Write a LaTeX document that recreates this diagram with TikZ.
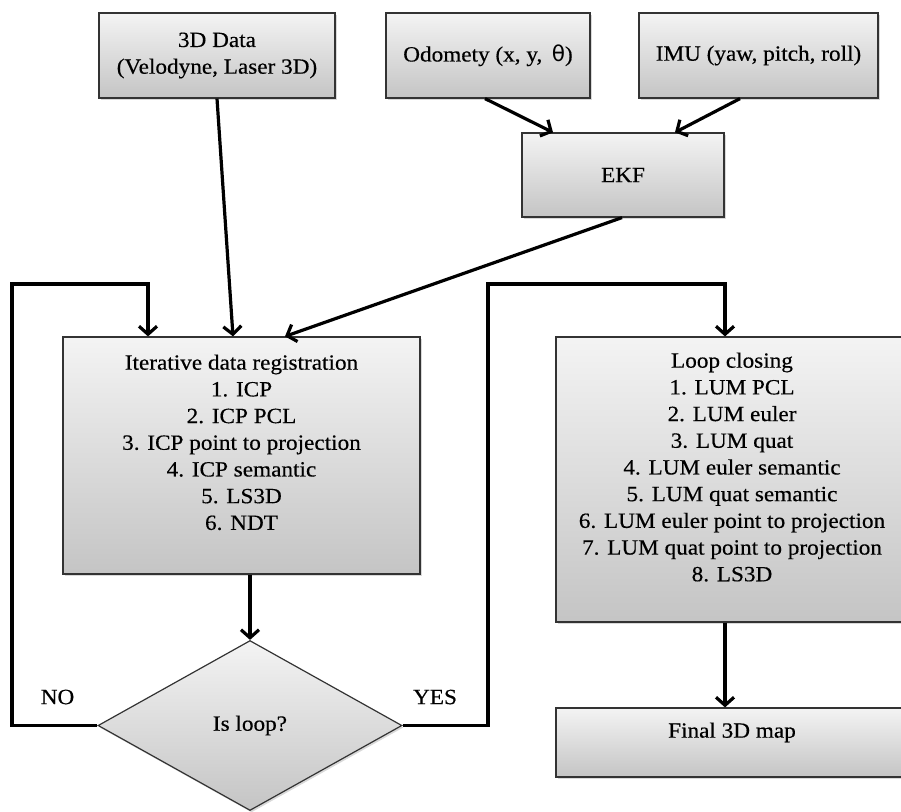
\documentclass[tikz,border=0pt]{standalone}
\usepackage{fontspec}
\setmainfont{Liberation Serif}[FakeStretch=1.07,FakeBold=0.4]
\newfontfamily\symfont{DejaVu Sans}
\usetikzlibrary{shapes.geometric,arrows.meta,shadows,calc}
\begin{document}
\begin{tikzpicture}[x=1pt,y=-1pt,
  every node/.style={font=\fontsize{21.7}{26.7}\selectfont},
  box/.style={draw=black!80, line width=1.2pt, top color=gray!9, bottom color=gray!46,
    drop shadow={shadow xshift=1.5pt, shadow yshift=-2pt, opacity=0.3},
    inner sep=0pt, align=center},
  arr/.style={line width=3.2pt, -{Straight Barb[length=8pt,width=18pt]}},
  txt/.style={align=center, inner sep=0pt},
  lbl/.style={inner sep=0pt}]
\useasboundingbox (0,0) rectangle (901,811);
\clip (0,0) rectangle (901,811);

% input boxes
\node[box, minimum width=236pt, minimum height=85pt] (data3d) at (217,55.5) {3D Data\\(Velodyne, Laser 3D)};
\node[box, minimum width=204pt, minimum height=85pt] (odo) at (488,55.5) {Odomety (x, y, \,{\symfont θ})};
\node[box, minimum width=239pt, minimum height=85pt] (imu) at (758.5,55.5) {IMU (yaw, pitch, roll)};
\node[box, minimum width=202pt, minimum height=84pt] (ekf) at (623,175) {EKF};

% main boxes
\node[box, minimum width=357pt, minimum height=237pt] (reg) at (241.5,455.5) {};
\node[txt, anchor=north] (regtxt) at ([yshift=-18pt]reg.north) {Iterative data registration\\1. ICP\\2. ICP PCL\\3. ICP point to projection\\4. ICP semantic\\5. LS3D\\6. NDT};

\node[box, minimum width=352pt, minimum height=285pt] (loopc) at (732,479.5) {};
\node[txt, anchor=north] (lctxt) at ([yshift=-16pt]loopc.north) {Loop closing\\1. LUM PCL\\2. LUM euler\\3. LUM quat\\4. LUM euler semantic\\5. LUM quat semantic\\6. LUM euler point to projection\\7. LUM quat point to projection\\8. LS3D};

\node[box, minimum width=352pt, minimum height=69pt] (final) at (732,742.5) {};
\node[txt, anchor=north] (fintxt) at ([yshift=-15pt]final.north) {Final 3D map};

\node[box, diamond, minimum width=304pt, minimum height=170pt] (dec) at (250,725.5) {Is loop?};

% labels
\node[lbl] (no) at (57.5,697) {NO};
\node[lbl] (yes) at (435,697) {YES};

% connectors
\draw[arr] (data3d.south) -- ([xshift=-8.5pt]reg.north);
\draw[arr] ([xshift=-3pt]odo.south) -- ([xshift=-70pt]ekf.north);
\draw[arr] ([xshift=-18.5pt]imu.south) -- ([xshift=52pt]ekf.north);
\draw[arr] ([xshift=-1pt]ekf.south) -- ([xshift=43.5pt]reg.north);
\draw[arr] (reg.south -| dec.north) -- (dec.north);
\draw[arr] ([xshift=-7pt]loopc.south) -- ([xshift=-7pt]final.north);

\coordinate (nl) at (12,284);
\coordinate (yl) at (488,284);
\draw[arr] (dec.west) -| (nl) -| ([xshift=-93.5pt]reg.north);
\draw[arr] (dec.east) -| (yl) -| ([xshift=-7pt]loopc.north);
\end{tikzpicture}
\end{document}
